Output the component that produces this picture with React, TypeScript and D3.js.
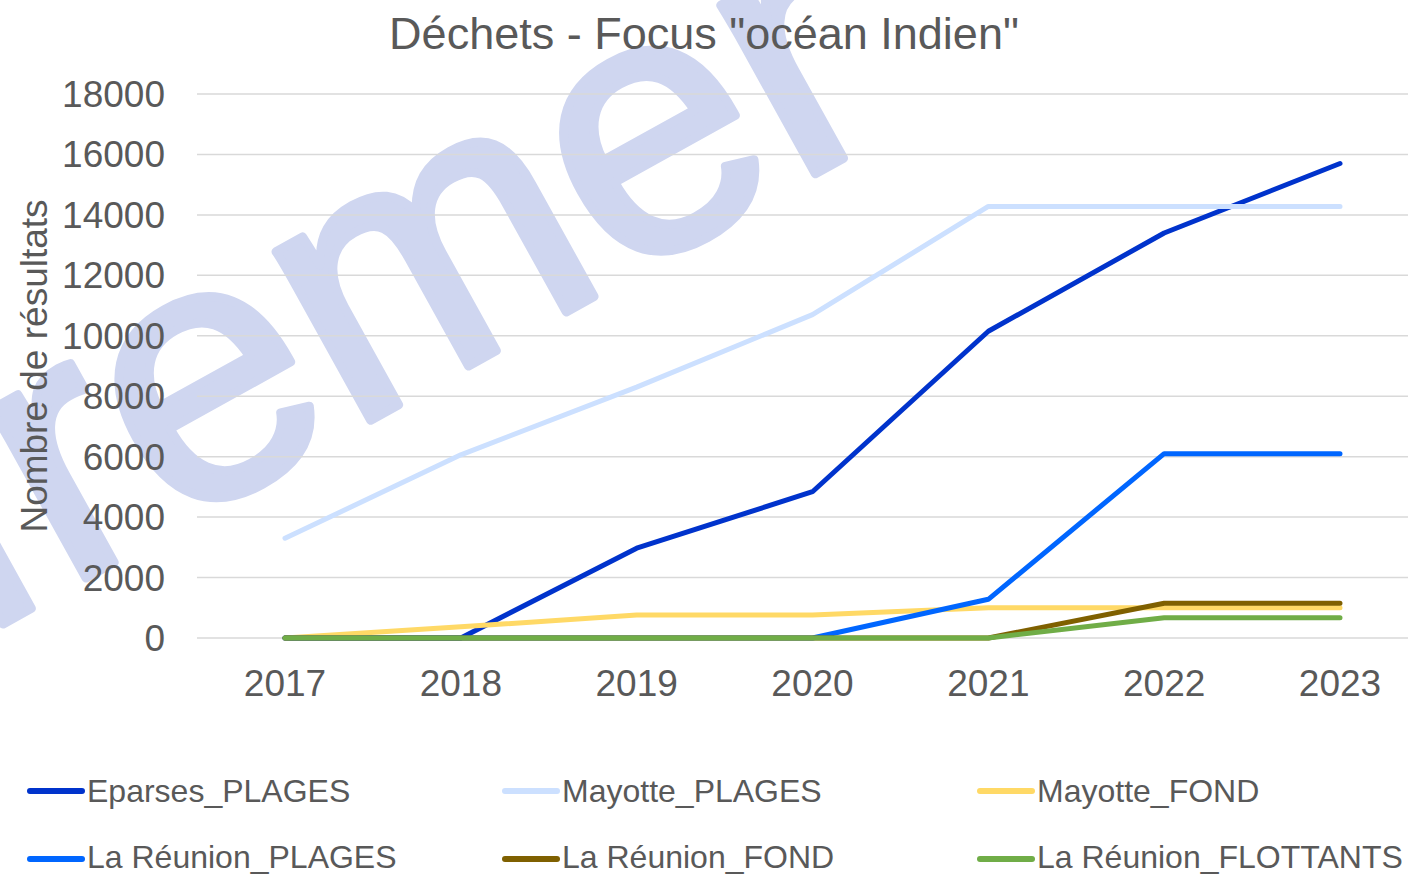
import React from "react";
import * as d3 from "d3";

const years = ["2017", "2018", "2019", "2020", "2021", "2022", "2023"];
const eparsesPlages = [0, 0, 2970, 4840, 10150, 13400, 15700];
const mayottePlages = [3300, 6060, 8300, 10700, 14280, 14280, 14280];
const mayotteFond = [0, 370, 760, 760, 1000, 1000, 1000];
const reunionPlages = [0, 0, 0, 0, 1280, 6100, 6100];
const reunionFond = [0, 0, 0, 0, 0, 1150, 1150];
const reunionFlottants = [0, 0, 0, 0, 0, 670, 670];
const yTicks = [0, 2000, 4000, 6000, 8000, 10000, 12000, 14000, 16000, 18000];

const seriesNames = [
  "Eparses_PLAGES",
  "Mayotte_PLAGES",
  "Mayotte_FOND",
  "La Réunion_PLAGES",
  "La Réunion_FOND",
  "La Réunion_FLOTTANTS",
];
const seriesValues = [eparsesPlages, mayottePlages, mayotteFond, reunionPlages, reunionFond, reunionFlottants];
const seriesColors = ["#0033cc", "#cce0ff", "#ffd966", "#0066ff", "#7f6000", "#70ad47"];

const W = 1408;
const H = 874;
const FONT = "'Liberation Sans', Arial, sans-serif";
const TEXT = "#595959";

export default function App() {
  const x = d3.scalePoint<string>().domain(years).range([285, 1340]);
  const y = d3.scaleLinear().domain([0, 18000]).range([638, 94]);
  const line = d3
    .line<number>()
    .x((_, i) => x(years[i]) as number)
    .y((d) => y(d));

  const legendCols = [30, 505, 980];
  const legendRows = [791, 859];
  const legendBaselines = [802, 868];

  return (
    <svg
      width={W}
      height={H}
      style={{ position: "absolute", left: 0, top: 0, background: "#fff" }}
      fontFamily={FONT}
    >
      <rect x={0} y={0} width={W} height={H} fill="#ffffff" />
      {/* watermark */}
      <text
        transform="translate(-114,689) rotate(-29)"
        fontSize={366}
        fill="#cfd6f0"
        stroke="#cfd6f0"
        strokeWidth={9}
        strokeLinejoin="round"
        fontFamily={FONT}
      >
        Ifremer
      </text>
      {/* gridlines */}
      {yTicks.map((t) => (
        <line key={t} x1={197} x2={W} y1={y(t)} y2={y(t)} stroke="#d9d9d9" strokeWidth={1.5} />
      ))}
      {/* y tick labels */}
      {yTicks.map((t) => (
        <text key={"l" + t} x={165} y={y(t) + 13} textAnchor="end" fontSize={37} fill={TEXT}>
          {t}
        </text>
      ))}
      {/* x labels */}
      {years.map((yr) => (
        <text key={yr} x={x(yr)} y={696} textAnchor="middle" fontSize={37} fill={TEXT}>
          {yr}
        </text>
      ))}
      {/* y axis title */}
      <text transform="translate(47,366) rotate(-90)" textAnchor="middle" fontSize={37} fill={TEXT}>
        Nombre de résultats
      </text>
      {/* title */}
      <text x={704} y={49} textAnchor="middle" fontSize={45} fill={TEXT}>
        Déchets - Focus "océan Indien"
      </text>
      {/* series */}
      {seriesValues.map((vals, i) => (
        <path
          key={seriesNames[i]}
          d={line(vals) || ""}
          fill="none"
          stroke={seriesColors[i]}
          strokeWidth={5}
          strokeLinecap="round"
          strokeLinejoin="round"
        />
      ))}
      {/* legend */}
      {seriesNames.map((name, i) => {
        const cx = legendCols[i % 3];
        const row = Math.floor(i / 3);
        const cy = legendRows[row];
        return (
          <g key={"lg" + name}>
            <line
              x1={cx}
              x2={cx + 52}
              y1={cy}
              y2={cy}
              stroke={seriesColors[i]}
              strokeWidth={6}
              strokeLinecap="round"
            />
            <text x={cx + 57} y={legendBaselines[row]} fontSize={32} fill={TEXT}>
              {name}
            </text>
          </g>
        );
      })}
    </svg>
  );
}
